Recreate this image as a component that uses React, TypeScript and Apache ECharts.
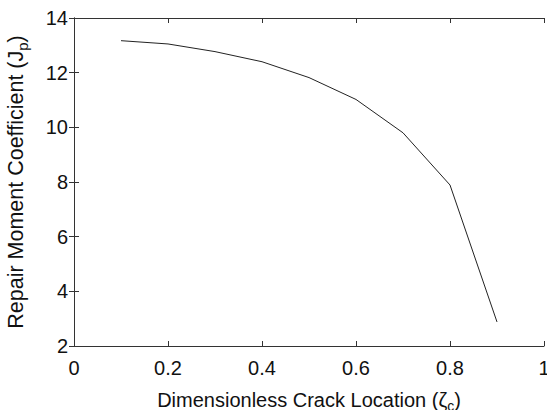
import React, { useEffect, useRef } from "react";
import * as echarts from "echarts";

const xValues = [0.1, 0.2, 0.3, 0.4, 0.5, 0.6, 0.7, 0.8, 0.9];
const jpValues = [13.17, 13.05, 12.77, 12.4, 11.82, 11.02, 9.8, 7.89, 2.88];
const xTicks = [0, 0.2, 0.4, 0.6, 0.8, 1];
const yTicks = [2, 4, 6, 8, 10, 12, 14];

const FONT = "'Liberation Sans', Arial, Helvetica, sans-serif";
const AXIS_COLOR = "#333";
const FS = 20;

export default function App() {
  const ref = useRef<HTMLDivElement>(null);
  useEffect(() => {
    if (!ref.current) return;
    const chart = echarts.init(ref.current, undefined, { renderer: "svg" });
    const fmt = (v: number) => (xTicks.includes(v) || yTicks.includes(v) ? String(v) : "");
    const commonLine = { show: true, lineStyle: { color: AXIS_COLOR, width: 1 } };
    const tick = { show: true, inside: true, length: 5, lineStyle: { color: AXIS_COLOR, width: 1 } };
    const subX = { fontSize: 14, fontFamily: FONT, color: "#111", padding: [12, 0, 0, 0] };
    const subY = { fontSize: 15, fontFamily: FONT, color: "#111", padding: [13, 0, 0, 0] };
    chart.setOption({
      animation: false,
      backgroundColor: "#fff",
      textStyle: { fontFamily: FONT },
      grid: { left: 74, right: 3, top: 18, bottom: 64, containLabel: false, outerBoundsMode: "none" },
      xAxis: [
        {
          type: "value",
          min: 0,
          max: 1,
          interval: 0.2,
          position: "bottom",
          axisLine: commonLine,
          axisTick: tick,
          splitLine: { show: false },
          axisLabel: { color: "#111", fontSize: FS, fontFamily: FONT, margin: 12, formatter: fmt },
          name: "Dimensionless Crack Location (ζ{sub|c})",
          nameLocation: "middle",
          nameGap: 41,
          nameTextStyle: { color: "#111", fontSize: FS, fontFamily: FONT, rich: { sub: subX } },
        },
        {
          type: "value",
          min: 0,
          max: 1,
          interval: 0.2,
          position: "top",
          axisLine: commonLine,
          axisTick: tick,
          splitLine: { show: false },
          axisLabel: { show: false },
        },
      ],
      yAxis: [
        {
          type: "value",
          min: 2,
          max: 14,
          interval: 2,
          position: "left",
          axisLine: commonLine,
          axisTick: tick,
          splitLine: { show: false },
          axisLabel: { color: "#111", fontSize: FS, fontFamily: FONT, margin: 6, formatter: fmt },
          name: "Repair Moment Coefficient (J{sub|p})",
          nameLocation: "middle",
          nameGap: 44,
          nameTextStyle: { color: "#111", fontSize: 21.5, fontFamily: FONT, rich: { sub: subY } },
        },
        {
          type: "value",
          min: 2,
          max: 14,
          interval: 2,
          position: "right",
          axisLine: commonLine,
          axisTick: tick,
          splitLine: { show: false },
          axisLabel: { show: false },
        },
      ],
      series: [
        {
          type: "line",
          xAxisIndex: 0,
          yAxisIndex: 0,
          data: xValues.map((x, i) => [x, jpValues[i]]),
          showSymbol: false,
          lineStyle: { color: "#222", width: 1 },
          silent: true,
        },
      ],
    });
    return () => chart.dispose();
  }, []);
  return <div ref={ref} style={{ width: 547, height: 410, position: "absolute", left: 0, top: 0 }} />;
}
